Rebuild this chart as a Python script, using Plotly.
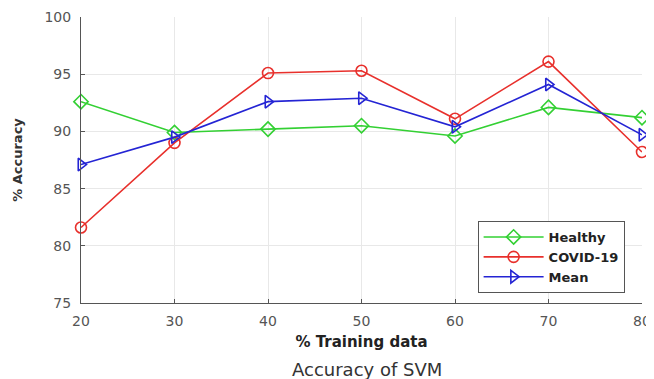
import plotly.graph_objects as go

training = [20, 30, 40, 50, 60, 70, 80]
healthy = [92.6, 89.9, 90.2, 90.5, 89.6, 92.1, 91.2]
covid = [81.6, 89.0, 95.1, 95.3, 91.1, 96.1, 88.2]
mean = [87.1, 89.5, 92.6, 92.9, 90.4, 94.1, 89.7]
yticks = [75, 80, 85, 90, 95, 100]
xticks = [20, 30, 40, 50, 60, 70, 80]

FONT = "DejaVu Sans, Liberation Sans, Arial, sans-serif"

fig = go.Figure()
series = [
    ("Healthy", healthy, "#33d033", "diamond-open"),
    ("COVID-19", covid, "#e8302c", "circle-open"),
    ("Mean", mean, "#2424d4", "triangle-right-open"),
]
for name, vals, col, sym in series:
    fig.add_trace(go.Scatter(
        x=training, y=vals, name="<b>" + name + "</b>", mode="lines+markers",
        line=dict(color=col, width=1.6),
        marker=dict(symbol=sym, size=11, color=col, line=dict(width=1.6, color=col)),
        cliponaxis=False,
    ))

# page body has an 8px margin, so the figure is 8px smaller and shifted
fig.update_layout(
    width=646, height=371,
    margin=dict(l=73, r=12, t=9, b=76, autoexpand=False),
    paper_bgcolor="white", plot_bgcolor="white",
    font=dict(family=FONT, size=12, color="#333"),
    showlegend=True,
    legend=dict(
        x=0.969, y=0.035, xanchor="right", yanchor="bottom",
        bgcolor="white", bordercolor="#555", borderwidth=1,
        font=dict(size=13, color="#222", family=FONT),
        itemwidth=60, tracegroupgap=0,
    ),
    annotations=[dict(
        text="Accuracy of SVM", x=0.51, y=-0.231, xref="paper", yref="paper",
        showarrow=False, yanchor="middle", font=dict(size=18, color="#333", family=FONT),
    )],
)
fig.update_xaxes(
    range=[20, 80], tickvals=xticks, ticks="inside", ticklen=4, tickcolor="#555",
    showline=True, linecolor="#555", linewidth=1, mirror=False,
    showgrid=True, gridcolor="#e8e8e8", zeroline=False, automargin=False,
    tickfont=dict(size=14, color="#555", family=FONT), ticklabelstandoff=5,
    title=dict(text="<b>% Training data</b>", font=dict(size=15, color="#222", family=FONT), standoff=8),
)
fig.update_yaxes(
    range=[75, 100], tickvals=yticks, ticks="inside", ticklen=4, tickcolor="#555",
    showline=True, linecolor="#555", linewidth=1, mirror=False,
    showgrid=True, gridcolor="#e8e8e8", zeroline=False, automargin=False,
    tickfont=dict(size=14, color="#555", family=FONT), ticklabelstandoff=6,
    title=dict(text="<b>% Accuracy</b>", font=dict(size=13, color="#333", family=FONT), standoff=18),
)
fig.write_html("out.html")
